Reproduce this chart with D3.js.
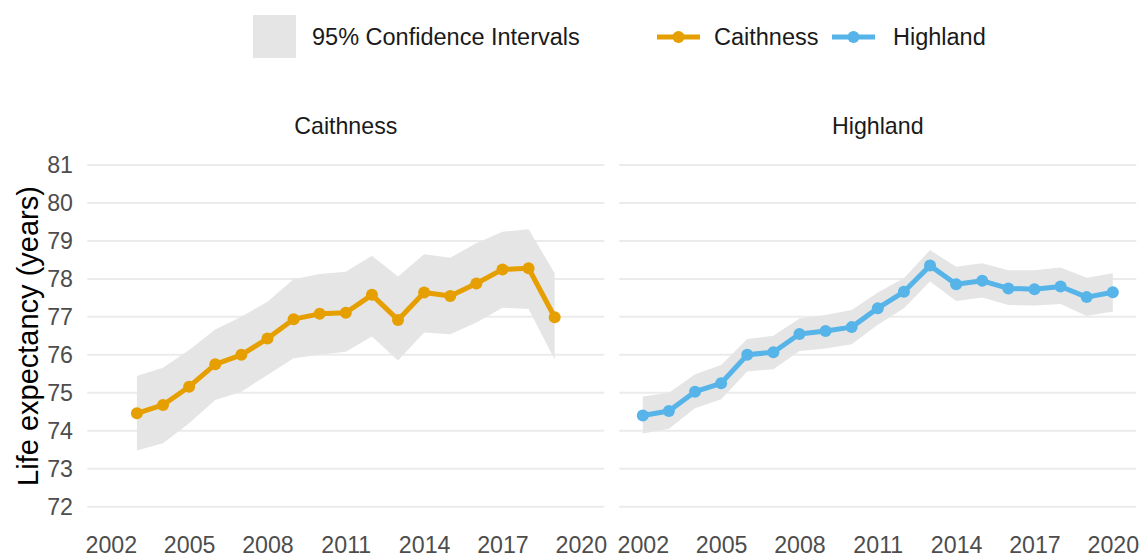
<!DOCTYPE html>
<html><head><meta charset="utf-8">
<script src="https://cdn.jsdelivr.net/npm/d3@7"></script>
<style>body{margin:0;background:#fff}svg{display:block;font-family:"Liberation Sans",Arial,sans-serif}</style>
</head><body><svg id="c" width="1140" height="557"></svg>
<script>
const caithYears = [2003,2004,2005,2006,2007,2008,2009,2010,2011,2012,2013,2014,2015,2016,2017,2018,2019];
const caithValue = [74.46,74.68,75.16,75.75,76.00,76.43,76.94,77.08,77.11,77.58,76.92,77.64,77.55,77.88,78.25,78.28,76.99];
const caithUpper = [75.44,75.66,76.13,76.67,77.00,77.40,77.99,78.13,78.19,78.61,78.06,78.65,78.56,78.94,79.24,79.31,78.15];
const caithLower = [73.48,73.67,74.20,74.81,75.03,75.47,75.91,76.00,76.08,76.48,75.85,76.59,76.54,76.85,77.24,77.21,75.88];

const highYears = [2002,2003,2004,2005,2006,2007,2008,2009,2010,2011,2012,2013,2014,2015,2016,2017,2018,2019,2020];
const highValue = [74.40,74.52,75.03,75.25,76.00,76.07,76.55,76.63,76.73,77.23,77.66,78.35,77.86,77.95,77.75,77.73,77.80,77.52,77.65];
const highUpper = [74.90,75.00,75.49,75.73,76.42,76.50,76.96,77.05,77.18,77.64,78.02,78.76,78.32,78.41,78.23,78.23,78.30,78.03,78.15];
const highLower = [73.93,74.05,74.59,74.83,75.56,75.62,76.10,76.17,76.28,76.79,77.23,77.93,77.42,77.51,77.31,77.30,77.34,77.02,77.14];

const xTicks = [2002,2005,2008,2011,2014,2017,2020];
const yTicks = [72,73,74,75,76,77,78,79,80,81];
const panels = ["Caithness","Highland"];
const colors = {"Caithness":"#E69F00","Highland":"#56B4E9"};
const legendCI = "95% Confidence Intervals";
const yTitle = "Life expectancy (years)";

const series = [
  {name:"Caithness", years:caithYears, value:caithValue, upper:caithUpper, lower:caithLower},
  {name:"Highland", years:highYears, value:highValue, upper:highUpper, lower:highLower}
];

const svg = d3.select("#c");
const panelX = [[87.3,604.3],[619.3,1136.3]];
const y = d3.scaleLinear().domain([72,81]).range([506.7,165]);
const ribbonFill = "#E5E5E5";
const fs = 23.2;

series.forEach((s,i)=>{
  const x = d3.scaleLinear().domain([2001.1,2020.9]).range(panelX[i]);
  const g = svg.append("g");
  g.selectAll("line.grid").data(yTicks).join("line")
    .attr("x1",panelX[i][0]).attr("x2",panelX[i][1])
    .attr("y1",d=>y(d)).attr("y2",d=>y(d))
    .attr("stroke","#EBEBEB").attr("stroke-width",2);
  const xa = d3.axisBottom(x).tickValues(xTicks).tickFormat(d3.format("d")).tickSize(0).tickPadding(0);
  const ax = g.append("g").attr("transform","translate(0,537)").call(xa);
  ax.select(".domain").remove();
  ax.selectAll("text").attr("fill","#4D4D4D").attr("font-size",fs).attr("dy","0.71em");
  g.append("text").attr("x",(panelX[i][0]+panelX[i][1])/2).attr("y",134)
    .attr("text-anchor","middle").attr("font-size",fs).attr("fill","#1A1A1A").text(panels[i]);
  const idx = d3.range(s.years.length);
  const area = d3.area().x(j=>x(s.years[j])).y0(j=>y(s.lower[j])).y1(j=>y(s.upper[j]));
  g.append("path").attr("d",area(idx)).attr("fill",ribbonFill);
  const line = d3.line().x(j=>x(s.years[j])).y(j=>y(s.value[j]));
  g.append("path").attr("d",line(idx)).attr("fill","none").attr("stroke",colors[s.name])
    .attr("stroke-width",5).attr("stroke-linejoin","round");
  g.selectAll("circle").data(idx).join("circle")
    .attr("cx",j=>x(s.years[j])).attr("cy",j=>y(s.value[j])).attr("r",6).attr("fill",colors[s.name]);
});

const ya = d3.axisLeft(y).tickValues(yTicks).tickSize(0).tickPadding(0);
const ay = svg.append("g").attr("transform","translate(73,0)").call(ya);
ay.select(".domain").remove();
ay.selectAll("text").attr("fill","#4D4D4D").attr("font-size",fs);

svg.append("text").attr("transform","translate(38,336) rotate(-90)").attr("text-anchor","middle")
  .attr("font-size",29).attr("fill","#000").text(yTitle);

const lg = svg.append("g");
lg.append("rect").attr("x",253).attr("y",15).attr("width",43).attr("height",43).attr("fill",ribbonFill);
lg.append("text").attr("x",312).attr("y",45).attr("font-size",23.5).attr("fill","#1A1A1A").text(legendCI);
const keys = [{name:"Caithness",x:657,tx:714},{name:"Highland",x:832,tx:893}];
keys.forEach(k=>{
  lg.append("line").attr("x1",k.x).attr("x2",k.x+43).attr("y1",37).attr("y2",37)
    .attr("stroke",colors[k.name]).attr("stroke-width",5);
  lg.append("circle").attr("cx",k.x+21.5).attr("cy",37).attr("r",6).attr("fill",colors[k.name]);
  lg.append("text").attr("x",k.tx).attr("y",45).attr("font-size",23.5).attr("fill","#1A1A1A").text(k.name);
});
</script></body></html>
